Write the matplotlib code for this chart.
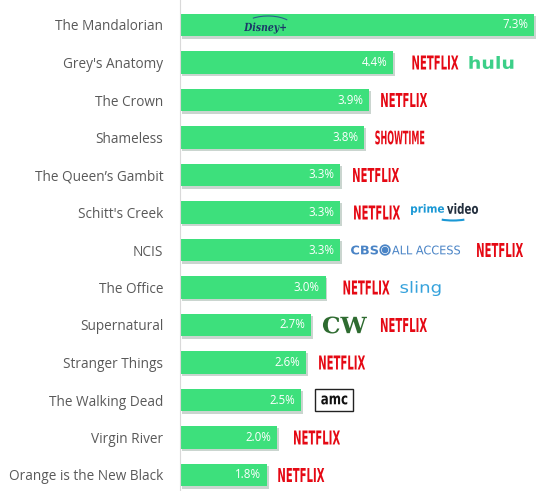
import matplotlib
matplotlib.use("Agg")
import matplotlib.pyplot as plt
import matplotlib.patheffects as pe
from matplotlib.textpath import TextPath
from matplotlib.font_manager import FontProperties
from matplotlib.patches import PathPatch, Rectangle, Arc, Circle
from matplotlib.transforms import Affine2D, ScaledTranslation

# ── data ─────────────────────────────────────────────
shows = [
    "The Mandalorian", "Grey's Anatomy", "The Crown", "Shameless",
    "The Queen\u2019s Gambit", "Schitt's Creek", "NCIS", "The Office",
    "Supernatural", "Stranger Things", "The Walking Dead", "Virgin River",
    "Orange is the New Black",
]
share = [7.3, 4.4, 3.9, 3.8, 3.3, 3.3, 3.3, 3.0, 2.7, 2.6, 2.5, 2.0, 1.8]
services = [
    ["disney"], ["netflix", "hulu"], ["netflix"], ["showtime"], ["netflix"],
    ["netflix", "prime"], ["cbs", "netflix"], ["netflix", "sling"],
    ["cw", "netflix"], ["netflix"], ["amc"], ["netflix"], ["netflix"],
]

BAR = "#3de07c"
RED = "#e50914"
DPI = 100

fig = plt.figure(figsize=(5.39, 4.91), dpi=DPI)
ax = fig.add_axes([180 / 539, 0, 359 / 539, 1])
ypos = list(range(len(shows)))

bars = ax.barh(ypos, share, height=0.61, color=BAR, zorder=2)
for b in bars:
    b.set_path_effects([pe.SimplePatchShadow(offset=(1.2, -1.5), alpha=0.22), pe.Normal()])

ax.set_xlim(0, 359 / 48.5)
ax.set_ylim(12 + 16 / 37.5, -25 / 37.5)
ax.set_yticks(ypos)
ax.set_yticklabels(shows, fontsize=9.8, color="#595959", family="Open Sans")
ax.tick_params(axis="y", length=0, pad=12)
ax.set_xticks([])
for s in ["top", "right", "bottom"]:
    ax.spines[s].set_visible(False)
ax.spines["left"].set_color("#d9d9d9")

# 값 라벨 (막대 끝 안쪽)
for y, v in zip(ypos, share):
    ax.annotate(f"{v:.1f}%", xy=(v, y), xytext=(-6 * 72 / DPI, 0), textcoords="offset points",
                ha="right", va="center", color="white", fontsize=8.3, family="Open Sans", zorder=3)


def px(x, y, dx, dy):
    return Affine2D().translate(dx, dy) + ScaledTranslation(x, y, ax.transData)


def word(x, y, s, dx, w, h, color, weight="bold", family="DejaVu Sans", style="normal", dy=0):
    """s 를 w x h px 상자에 맞춰 그림, (x, y) 에서 dx px 오른쪽"""
    tp = TextPath((0, 0), s, size=20, prop=FontProperties(family=family, weight=weight, style=style))
    bb = tp.get_extents()
    tr = (Affine2D().translate(-bb.x0, -(bb.y0 + bb.y1) / 2)
          .scale(w / bb.width, h / bb.height) + px(x, y, dx, dy))
    ax.add_patch(PathPatch(tp, transform=tr, color=color, lw=0, clip_on=False, zorder=4))


# ── 서비스 로고 (텍스트로 근사) ──────────────────────
first_dx = [12, 19, 12, 11, 13, 14, 11, 18, 12, 13, 14, 17, 11]
for y, v, svc, dx in zip(ypos, share, services, first_dx):
    for name in svc:
        if name == "netflix":
            word(v, y, "NETFLIX", dx, 46, 14, RED)
            dx += 57
        elif name == "hulu":
            word(v, y, "hulu", dx, 44, 13, "#3ccf88")
        elif name == "showtime":
            word(v, y, "SHOWTIME", dx, 49, 14, RED)
        elif name == "prime":
            word(v, y, "prime", dx, 33, 11, "#1a98d5", dy=3)
            word(v, y, "video", dx + 36, 31, 11, "#232f3e", dy=4)
            ax.add_patch(Arc((0, 0), 40, 10, theta1=200, theta2=340, color="#1a98d5", lw=1.5,
                             transform=px(v, y, dx + 42, -3), clip_on=False, zorder=4))
        elif name == "cbs":
            c = "#4a84c6"
            word(v, y, "CBS", dx, 27, 9, c)
            ax.add_patch(Circle((0, 0), 4.8, facecolor="white", edgecolor=c, lw=1.2,
                                transform=px(v, y, dx + 34, 0), clip_on=False, zorder=4))
            ax.add_patch(Circle((0, 0), 2.6, color=c, transform=px(v, y, dx + 34, 0),
                                clip_on=False, zorder=5))
            word(v, y, "ALL ACCESS", dx + 41, 68, 9, c, weight="normal")
            dx += 126
        elif name == "sling":
            word(v, y, "sling", dx, 40, 15, "#35a2dc", weight="normal", dy=-1)
        elif name == "cw":
            word(v, y, "CW", dx, 44, 17, "#2e6b30", family="DejaVu Serif")
            dx += 58
        elif name == "amc":
            ax.add_patch(Rectangle((0, -11), 38, 22, transform=px(v, y, dx, 0), facecolor="white",
                                   edgecolor="#222222", lw=1, clip_on=False, zorder=4))
            word(v, y, "amc", dx + 6, 26, 9, "#111111")
        elif name == "disney":
            word(0, y, "Disney+", 64, 42, 11, "#1b3868", family="DejaVu Serif", style="italic", dy=-3)
            ax.add_patch(Arc((0, 0), 50, 22, theta1=20, theta2=150, color="#2a5f8c", lw=0.8,
                             transform=px(0, y, 88, -2), clip_on=False, zorder=4))

fig.savefig("out.png", dpi=DPI)
